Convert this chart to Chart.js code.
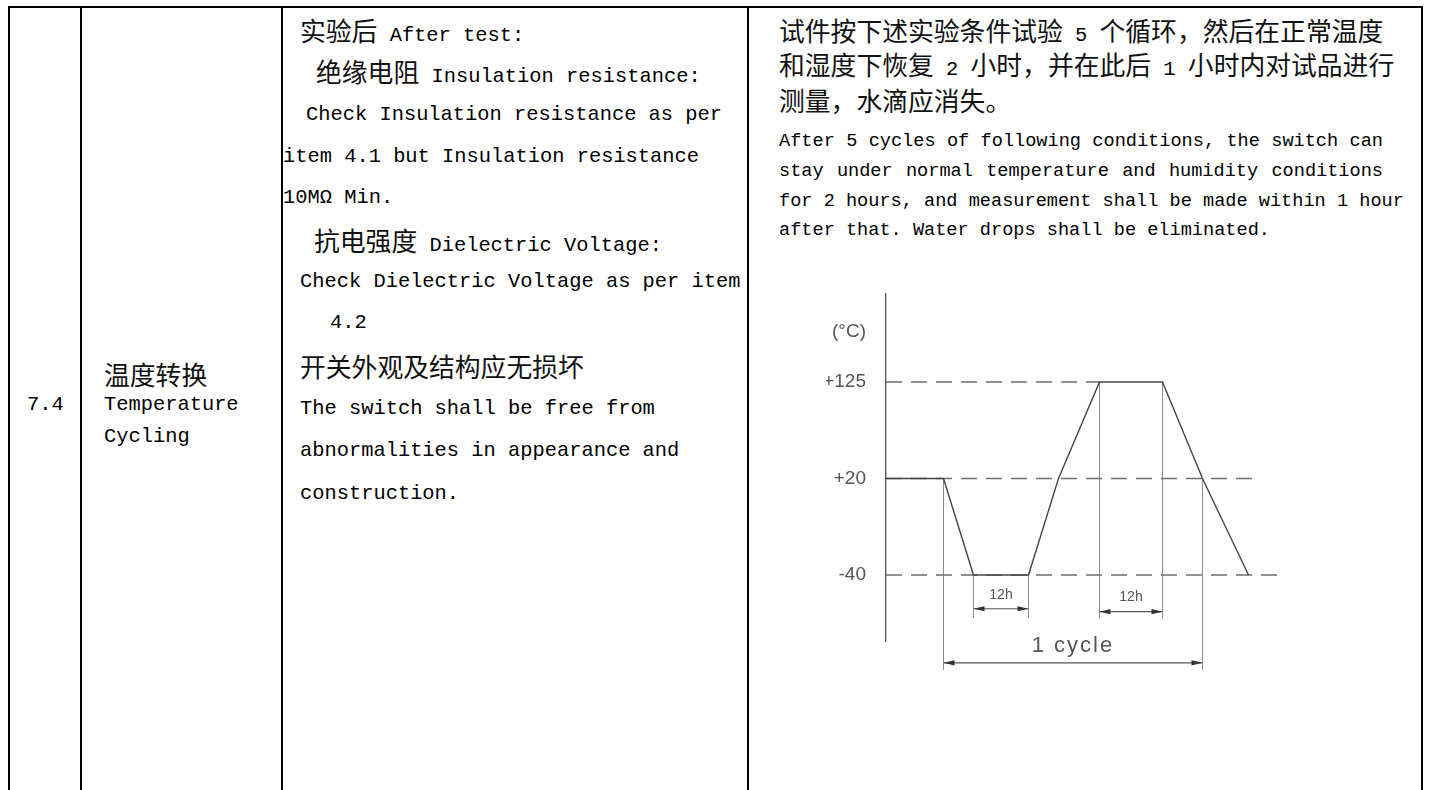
<!DOCTYPE html>
<html>
<head>
<meta charset="utf-8">
<script src="https://cdn.jsdelivr.net/npm/chart.js@4.4.1/dist/chart.umd.min.js"></script>
<style>
  html, body { margin: 0; padding: 0; background: #fff; }
  body { width: 1429px; height: 790px; position: relative; overflow: hidden; color: #000;
         font-family: "Liberation Mono", "Noto Sans CJK SC", monospace; }
  .v { position: absolute; top: 6px; bottom: 0; width: 2px; background: #000; }
  .h { position: absolute; left: 8px; width: 1415px; height: 2px; top: 6px; background: #000; }
  .ln { position: absolute; white-space: pre; height: 40px; line-height: 40px; font-size: 20.4px; }
  .c { font-family: "Noto Sans CJK SC", sans-serif; font-size: 25.8px; color: #111; }
  .r4 { font-size: 18.6px; height: 30px; line-height: 30px; }
  .j { width: 604px; text-align: justify; text-align-last: justify; }
  #wrap { position: absolute; left: 760px; top: 270px; width: 580px; height: 430px; }
</style>
</head>
<body>
<div class="h"></div>
<div class="v" style="left:8px"></div>
<div class="v" style="left:80px"></div>
<div class="v" style="left:281px"></div>
<div class="v" style="left:747px"></div>
<div class="v" style="left:1421px"></div>

<div class="ln" style="left:27px;top:385px">7.4</div>

<div class="ln" style="left:104px;top:354px"><span class="c">温度转换</span></div>
<div class="ln" style="left:104px;top:385px">Temperature</div>
<div class="ln" style="left:104px;top:417px">Cycling</div>

<div class="ln" style="left:300px;top:10px"><span class="c">实验后</span> After test:</div>
<div class="ln" style="left:316px;top:51px"><span class="c">绝缘电阻</span> Insulation resistance:</div>
<div class="ln" style="left:306px;top:95px">Check Insulation resistance as per</div>
<div class="ln" style="left:283px;top:137px">item 4.1 but Insulation resistance</div>
<div class="ln" style="left:283px;top:178px">10MΩ Min.</div>
<div class="ln" style="left:314px;top:220px"><span class="c">抗电强度</span> Dielectric Voltage:</div>
<div class="ln" style="left:300px;top:262px">Check Dielectric Voltage as per item</div>
<div class="ln" style="left:330px;top:303px">4.2</div>
<div class="ln" style="left:300px;top:346px"><span class="c">开关外观及结构应无损坏</span></div>
<div class="ln" style="left:300px;top:389px">The switch shall be free from</div>
<div class="ln" style="left:300px;top:431px">abnormalities in appearance and</div>
<div class="ln" style="left:300px;top:474px">construction.</div>

<div class="ln" style="left:779px;top:10px"><span class="c">试件按下述实验条件试验</span> 5 <span class="c">个循环，然后在正常温度</span></div>
<div class="ln" style="left:779px;top:44px"><span class="c">和湿度下恢复</span> 2 <span class="c">小时，并在此后</span> 1 <span class="c">小时内对试品进行</span></div>
<div class="ln" style="left:779px;top:80px"><span class="c">测量，水滴应消失。</span></div>
<div class="ln r4 j" style="left:779px;top:127px">After 5 cycles of following conditions, the switch can</div>
<div class="ln r4 j" style="left:779px;top:157px">stay under normal temperature and humidity conditions</div>
<div class="ln r4 j" style="left:779px;top:187px">for 2 hours, and measurement shall be made within 1 hour</div>
<div class="ln r4" style="left:779px;top:216px">after that. Water drops shall be eliminated.</div>

<div id="wrap"><canvas id="cycleChart" width="580" height="430"></canvas></div>

<script>
// temperature levels of the schematic (evenly spaced on the drawing)
const tempLevels = [-40, 20, 125];
const tickText = ['-40', '+20', '+125'];
const unitLabel = '(°C)';
const unitLevel = 2.52;

// profile of one cycle, time in drawing units
const profileTime = [0, 11.5, 17.5, 28.5, 34.5, 42.7, 55.3, 63.3, 72.5];
const profileTemp = [20, 20, -40, -40, 20, 125, 125, 20, -40];

// dashed reference lines
const refTemp = [125, 20, -40];
const refEnd = [42.7, 73.2, 78.8];

// extension lines for the dimensions (end given in level steps below -40)
const extTime = [11.5, 17.5, 28.5, 42.7, 55.3, 63.3];
const extFrom = [20, -40, -40, 125, 125, 20];
const extTo = [-0.98, -0.44, -0.44, -0.45, -0.45, -0.98];

// dimension arrows
const dimStart = [17.5, 42.7, 11.5];
const dimEnd = [28.5, 55.3, 63.3];
const dimLevel = [-0.35, -0.38, -0.91];
const dimText = ['12h', '12h', '1 cycle'];
const dimTextLevel = [-0.21, -0.23, -0.74];
const dimFont = [14, 14, 22];

const level = t => tempLevels.indexOf(t);

const datasets = [];
datasets.push({
    data: profileTime.map((x, i) => ({ x, y: level(profileTemp[i]) })),
    borderColor: '#454545', borderWidth: 1.4
});
refTemp.forEach((t, i) => datasets.push({
    data: [{ x: 0, y: level(t) }, { x: refEnd[i], y: level(t) }],
    borderColor: '#6e6e6e', borderWidth: 1.3, borderDash: [16, 9]
}));
extTime.forEach((x, i) => datasets.push({
    data: [{ x, y: level(extFrom[i]) }, { x, y: extTo[i] }],
    borderColor: '#8c8c8c', borderWidth: 1
}));
dimStart.forEach((x, i) => datasets.push({
    data: [{ x, y: dimLevel[i] }, { x: dimEnd[i], y: dimLevel[i] }],
    borderColor: '#555', borderWidth: 1.2
}));

// arrowheads and dimension texts
const dimPlugin = {
    id: 'dims',
    afterDatasetsDraw(chart) {
        const { ctx, scales: { x, y } } = chart;
        ctx.save();
        dimStart.forEach((s, i) => {
            const py = y.getPixelForValue(dimLevel[i]);
            const x0 = x.getPixelForValue(s), x1 = x.getPixelForValue(dimEnd[i]);
            ctx.fillStyle = '#333';
            [[x0, 1], [x1, -1]].forEach(([px, d]) => {
                ctx.beginPath();
                ctx.moveTo(px, py);
                ctx.lineTo(px + d * 11, py - 2.6);
                ctx.lineTo(px + d * 11, py + 2.6);
                ctx.closePath();
                ctx.fill();
            });
            ctx.fillStyle = '#555';
            ctx.font = dimFont[i] + 'px "Liberation Sans", sans-serif';
            ctx.letterSpacing = i === 2 ? '2px' : '0px';
            ctx.textAlign = 'center';
            ctx.textBaseline = 'middle';
            ctx.fillText(dimText[i], (x0 + x1) / 2, y.getPixelForValue(dimTextLevel[i]));
        });
        ctx.restore();
    }
};

new Chart(document.getElementById('cycleChart'), {
    type: 'line',
    data: { datasets },
    options: {
        responsive: false,
        animation: false,
        layout: { padding: { left: 66, top: 18, right: 54, bottom: 59 } },
        elements: { point: { radius: 0 }, line: { tension: 0 } },
        datasets: { line: { clip: false } },
        plugins: { legend: { display: false }, tooltip: { enabled: false } },
        scales: {
            x: { type: 'linear', min: 0, max: 80, display: false },
            y: {
                type: 'linear', min: -0.684, max: 2.918,
                grid: { display: false },
                border: { display: true, color: '#555', width: 1.3 },
                afterBuildTicks: s => { s.ticks = [0, 1, 2, unitLevel].map(v => ({ value: v })); },
                afterFit: s => { s.width = 60; },
                ticks: {
                    autoSkip: false, padding: 12, color: '#555',
                    font: { family: 'Liberation Sans', size: 19 },
                    callback: v => v === unitLevel ? unitLabel : tickText[v]
                }
            }
        }
    },
    plugins: [dimPlugin]
});
</script>
</body>
</html>
